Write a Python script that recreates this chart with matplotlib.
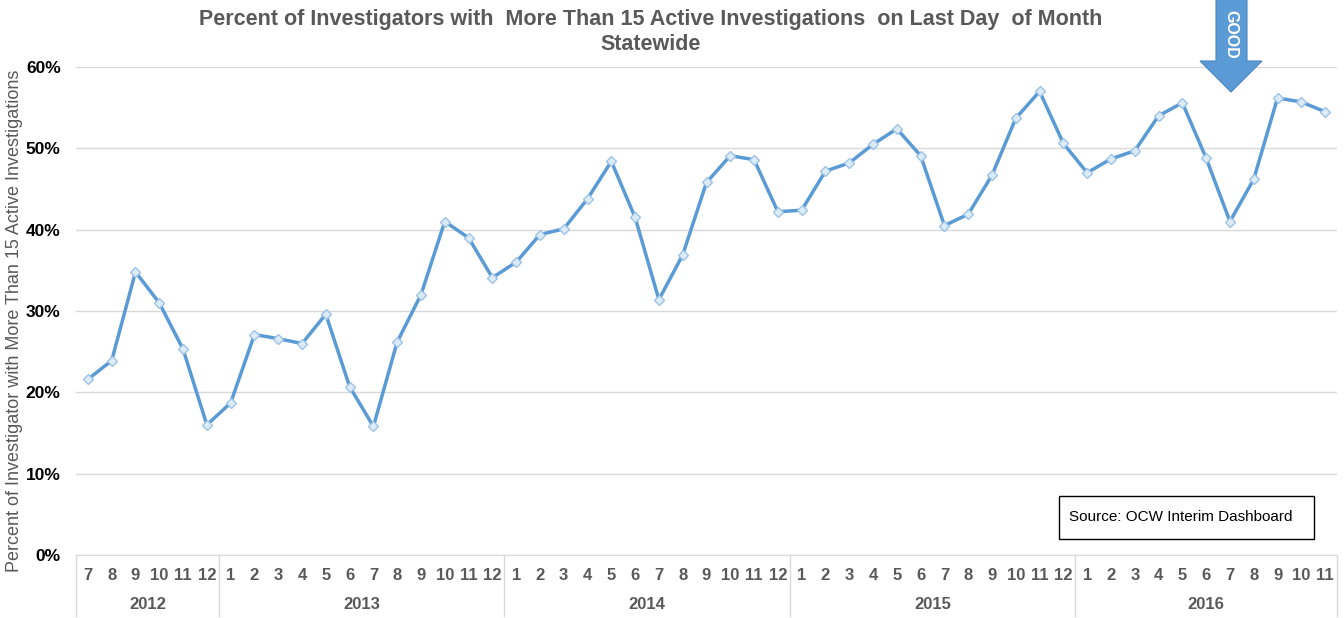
import matplotlib.pyplot as plt
import matplotlib.transforms as mtransforms
from matplotlib.patches import Polygon
from matplotlib.ticker import FuncFormatter

plt.rcParams['font.family'] = ['Liberation Sans', 'DejaVu Sans']

# Data: percent of investigators with >15 active investigations
years = ['2012', '2013', '2014', '2015', '2016']
months_per_year = [[7, 8, 9, 10, 11, 12],
                   list(range(1, 13)),
                   list(range(1, 13)),
                   list(range(1, 13)),
                   list(range(1, 12))]

values_2012 = [21.6, 23.9, 34.8, 31.0, 25.3, 16.0]
values_2013 = [18.7, 27.1, 26.6, 26.0, 29.6, 20.7, 15.8, 26.2, 32.0, 41.0, 39.0, 34.1]
values_2014 = [36.0, 39.4, 40.1, 43.8, 48.4, 41.5, 31.4, 36.9, 45.8, 49.1, 48.6, 42.2]
values_2015 = [42.4, 47.2, 48.2, 50.5, 52.4, 49.1, 40.5, 41.9, 46.7, 53.7, 57.0, 50.6]
values_2016 = [47.0, 48.7, 49.7, 54.0, 55.6, 48.8, 41.0, 46.2, 56.2, 55.7, 54.5]

values = values_2012 + values_2013 + values_2014 + values_2015 + values_2016
month_labels = [str(m) for ms in months_per_year for m in ms]
x = list(range(len(values)))

fig = plt.figure(figsize=(13.44, 6.18), dpi=100)
ax = fig.add_axes([76 / 1344, 63 / 618, 1261 / 1344, 488 / 618])

ax.plot(x, [v / 100 for v in values], color='#5B9BD5', linewidth=2.5,
        marker='D', markersize=5, markerfacecolor='#DDEBF7',
        markeredgecolor='#9DC3E6', markeredgewidth=1, zorder=3)

ax.set_xlim(-0.5, len(values) - 0.5)
ax.set_ylim(0, 0.6)
ax.set_yticks([0, 0.1, 0.2, 0.3, 0.4, 0.5, 0.6])
ax.yaxis.set_major_formatter(FuncFormatter(lambda v, p: f'{v * 100:.0f}%'))
ax.grid(axis='y', color='#D9D9D9', linewidth=1)
ax.set_axisbelow(True)
for s in ['top', 'right', 'left']:
    ax.spines[s].set_visible(False)
ax.spines['bottom'].set_color('#D9D9D9')

ax.set_xticks(x)
ax.set_xticklabels(month_labels, fontsize=12, fontweight='bold', color='#595959')
ax.tick_params(axis='x', length=0, pad=9)
ax.tick_params(axis='y', length=0, pad=11, labelsize=12.5)
for lbl in ax.get_yticklabels():
    lbl.set_fontweight('bold')

# year groups under month labels
trans = mtransforms.blended_transform_factory(ax.transData, ax.transAxes)
start = 0
bounds = [-0.5]
for yr, ms in zip(years, months_per_year):
    end = start + len(ms)
    ax.text((start + end - 1) / 2, -0.101, yr, transform=trans, ha='center', va='center',
            fontsize=12, fontweight='bold', color='#595959')
    bounds.append(end - 0.5)
    start = end
for b in bounds:
    ax.plot([b, b], [0, -0.125], transform=trans, color='#D9D9D9', linewidth=1, clip_on=False)

ax.set_ylabel('Percent of Investigator with More Than 15 Active Investigations',
              fontsize=13, color='#595959')
ax.yaxis.set_label_coords(-0.042, 0.48)

fig.text(651 / 1344, 1 - 19 / 618,
         'Percent of Investigators with  More Than 15 Active Investigations  on Last Day  of Month',
         ha='center', va='center', fontsize=15.5, fontweight='bold', color='#595959')
fig.text(651 / 1344, 1 - 45 / 618, 'Statewide',
         ha='center', va='center', fontsize=15.5, fontweight='bold', color='#595959')

# "GOOD" arrow pointing down
pts = [(1216, -2), (1247, -2), (1247, 61), (1262, 61), (1231, 92), (1200, 61), (1216, 61)]
arrow = Polygon([(px / 1344, 1 - py / 618) for px, py in pts], closed=True,
                transform=fig.transFigure, facecolor='#5B9BD5', edgecolor='#4A86C0',
                linewidth=0.8)
fig.patches.append(arrow)
fig.text(1231 / 1344, 1 - 34 / 618, 'GOOD', rotation=270, ha='center', va='center',
         fontsize=11.5, fontweight='bold', color='white')

# source box
fig.text(1069 / 1344, 1 - 517 / 618, 'Source: OCW Interim Dashboard',
         ha='left', va='center', fontsize=11, color='black')
box = Polygon([(px / 1344, 1 - py / 618) for px, py in
               [(1059, 496), (1314, 496), (1314, 539), (1059, 539)]],
              closed=True, transform=fig.transFigure, facecolor='none',
              edgecolor='black', linewidth=1)
fig.patches.append(box)

fig.savefig('out.png', dpi=100)
